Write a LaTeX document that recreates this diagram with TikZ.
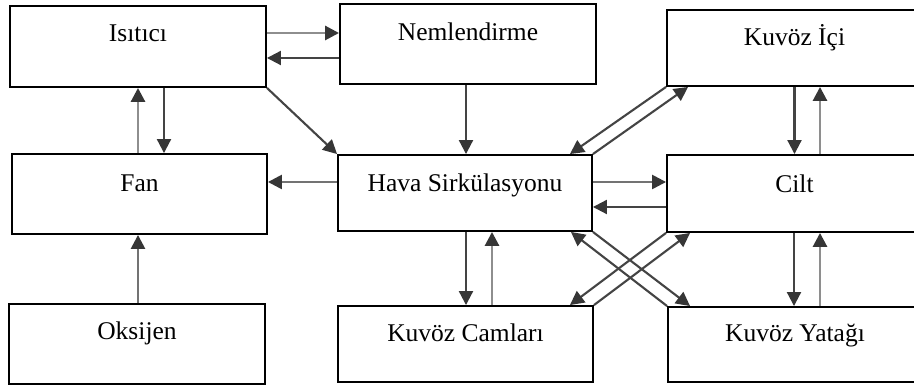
\documentclass[tikz,border=0pt]{standalone}
\usepackage{fontspec}
\setmainfont{Liberation Serif}
\usetikzlibrary{arrows.meta}
\definecolor{tipc}{HTML}{363636}
\definecolor{darkln}{HTML}{444444}
\definecolor{lightln}{HTML}{8E8E8E}
\definecolor{midln}{HTML}{737373}
\tikzset{
  box/.style={draw=black, line width=1.9pt, rectangle, inner sep=0pt},
  lbl/.style={anchor=base, inner sep=0pt, font=\fontsize{25.5}{30}\selectfont},
  tip/.style={-{Triangle[length=14pt,width=14pt,color=tipc]}},
  arrd/.style={tip, draw=darkln, line width=2.1pt},
  arrm/.style={tip, draw=midln, line width=2.5pt},
  arrl/.style={tip, draw=lightln, line width=2.8pt}
}
\begin{document}
\begin{tikzpicture}[x=1pt,y=1pt]
\clip (0,0) rectangle (914,385);
\fill[white] (0,0) rectangle (914,385);

% boxes
\node[box, minimum width=256pt, minimum height=81pt] (isi) at (138,338.5) {};
\node[box, minimum width=256pt, minimum height=80pt] (nem) at (468,341) {};
\node[box, minimum width=255pt, minimum height=76pt] (ici) at (794.5,337) {};
\node[box, minimum width=255pt, minimum height=80pt] (fan) at (139.5,191) {};
\node[box, minimum width=254pt, minimum height=76pt] (hava) at (465,192) {};
\node[box, minimum width=255pt, minimum height=77pt] (cilt) at (794.5,191.5) {};
\node[box, minimum width=256pt, minimum height=80pt] (oks) at (137,41) {};
\node[box, minimum width=255pt, minimum height=76pt] (cam) at (465.5,41) {};
\node[box, minimum width=254pt, minimum height=75pt] (yat) at (795,40.5) {};

% labels
\node[lbl] (isiT) at ([yshift=-36.5pt]isi.north) {Isıtıcı};
\node[lbl] (nemT) at ([yshift=-37pt]nem.north) {Nemlendirme};
\node[lbl] (iciT) at ([yshift=-36pt]ici.north) {Kuvöz İçi};
\node[lbl] (fanT) at ([yshift=-38pt]fan.north) {Fan};
\node[lbl] (havaT) at ([yshift=-37pt]hava.north) {Hava Sirkülasyonu};
\node[lbl] (ciltT) at ([yshift=-38pt]cilt.north) {Cilt};
\node[lbl] (oksT) at ([yshift=-36pt]oks.north) {Oksijen};
\node[lbl] (camT) at ([yshift=-36pt]cam.north) {Kuvöz Camları};
\node[lbl] (yatT) at ([yshift=-35pt]yat.north) {Kuvöz Yatağı};

% top row
\draw[arrl] ([yshift=13.5pt]isi.east) -- ([yshift=11pt]nem.west);
\draw[arrd] ([yshift=-14pt]nem.west) -- ([yshift=-11.5pt]isi.east);
\draw[arrd] (isi.south east) -- (hava.north west);
\draw[arrl] (isi.south |- fan.north) -- (isi.south);
\draw[arrd] ([xshift=26pt]isi.south) -- ([xshift=26pt]isi.south |- fan.north);
\draw[arrd] ([xshift=-2pt]nem.south) -- ([xshift=1pt]hava.north);

% Kuvöz İçi and Hava Sirkülasyonu
\draw[arrd] (ici.south west) -- ([xshift=-23pt]hava.north east);
\draw[arrd] (hava.north east) -- ([xshift=22pt]ici.south west);
\draw[arrd] (ici.south) -- (cilt.north);
\draw[arrl] ([xshift=25.5pt]cilt.north) -- ([xshift=25.5pt]ici.south);

% middle row
\draw[arrm] ([yshift=11pt]hava.west) -- ([yshift=12pt]fan.east);
\draw[arrm] ([yshift=11pt]hava.east) -- ([yshift=11.5pt]cilt.west);
\draw[arrd] ([yshift=-13.5pt]cilt.west) -- ([yshift=-14pt]hava.east);

% bottom row
\draw[arrd] ([xshift=1pt]hava.south) -- ([xshift=0.5pt]cam.north);
\draw[arrl] ([xshift=26.5pt]cam.north) -- ([xshift=27pt]hava.south);
\draw[arrd] (cilt.south west) -- ([xshift=-24pt]cam.north east);
\draw[arrd] (cam.north east) -- ([xshift=24pt]cilt.south west);
\draw[arrd] (hava.south east) -- ([xshift=23pt]yat.north west);
\draw[arrd] (yat.north west) -- ([xshift=-22pt]hava.south east);
\draw[arrd] ([xshift=-0.5pt]cilt.south) -- ([xshift=-1pt]yat.north);
\draw[arrl] ([xshift=25pt]yat.north) -- ([xshift=25.5pt]cilt.south);
\draw[arrm] ([xshift=1pt]oks.north) -- ([xshift=-1.5pt]fan.south);
\end{tikzpicture}
\end{document}
